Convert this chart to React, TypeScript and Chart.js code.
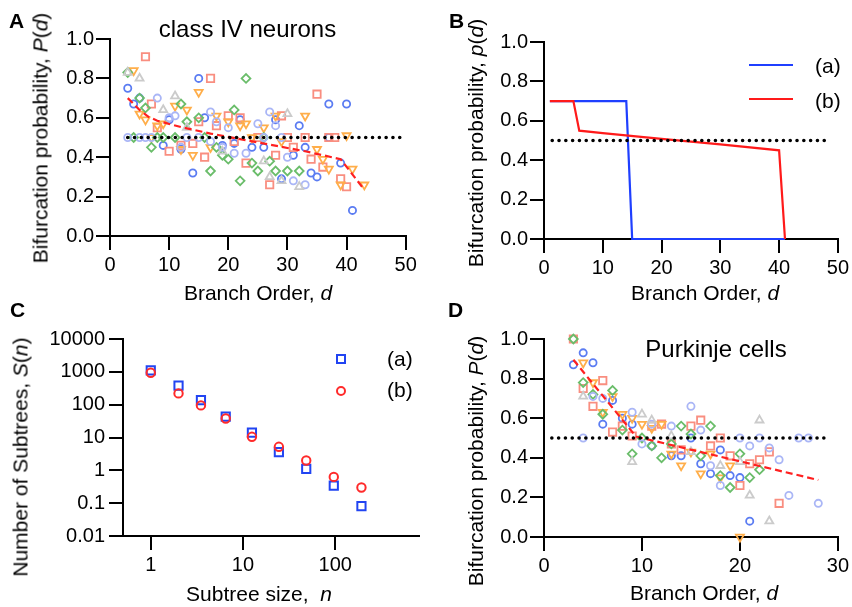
import React, { useEffect, useRef } from "react";
import { Chart, registerables } from "chart.js";
Chart.register(...registerables);

const FONT = '"Liberation Sans", Arial, Helvetica, sans-serif';
type Pt = [number, number];

// ---------------- Panel A: class IV neurons (branch order d, P(d)) ----------------
const A_BLUE: Pt[] = [[3,0.75],[4,0.67],[5,0.70],[9,0.46],[10,0.59],[12,0.44],[14,0.32],[15,0.80],[16,0.60],[19,0.46],[21,0.47],[22,0.59],[24,0.45],[26,0.45],[28,0.59],[29,0.29],[31,0.41],[32,0.56],[33,0.45],[34,0.32],[35,0.30],[37,0.67],[37,0.50],[39,0.37],[40,0.67],[41,0.13]];
const A_LIGHT: Pt[] = [[3,0.50],[5,0.50],[6,0.50],[7,0.50],[8,0.70],[10,0.60],[11,0.61],[12,0.45],[13,0.50],[15,0.50],[17,0.63],[17,0.48],[18,0.58],[19,0.45],[20,0.55],[21,0.42],[23,0.42],[25,0.57],[26,0.50],[27,0.63],[28,0.56],[29,0.50],[30,0.40],[31,0.28],[33,0.26]];
const A_GREEN: Pt[] = [[3,0.83],[4,0.50],[5,0.70],[6,0.65],[7,0.45],[8,0.50],[9,0.50],[11,0.50],[12,0.67],[13,0.58],[15,0.60],[16,0.50],[17,0.33],[18,0.45],[19,0.41],[20,0.39],[21,0.64],[22,0.28],[23,0.80],[24,0.37],[25,0.33],[26,0.50],[27,0.38],[28,0.33],[30,0.33],[32,0.33]];
const A_ORANGE: Pt[] = [[4,0.84],[5,0.62],[6,0.59],[7,0.50],[8,0.56],[9,0.57],[11,0.66],[12,0.44],[13,0.64],[14,0.41],[15,0.73],[17,0.45],[18,0.61],[20,0.58],[22,0.56],[23,0.57],[24,0.50],[26,0.55],[28,0.61],[29,0.48],[33,0.61],[35,0.44],[36,0.39],[37,0.34],[39,0.26],[40,0.51],[41,0.34],[43,0.26]];
const A_SALMON: Pt[] = [[6,0.91],[7,0.67],[8,0.55],[10,0.43],[12,0.46],[14,0.47],[15,0.58],[16,0.40],[17,0.80],[18,0.56],[20,0.61],[21,0.48],[22,0.60],[23,0.37],[25,0.50],[27,0.26],[28,0.41],[29,0.61],[30,0.50],[31,0.45],[33,0.50],[34,0.39],[35,0.72],[36,0.35],[37,0.50],[38,0.50],[39,0.29],[40,0.25]];
const A_GRAY: Pt[] = [[3,0.83],[5,0.80],[9,0.64],[11,0.71],[13,0.55],[19,0.43],[26,0.38],[27,0.30],[29,0.28],[30,0.62],[32,0.25]];
const A_FIT: Pt[] = [[3,0.70],[5,0.64],[6.5,0.605],[8,0.585],[12,0.553],[17,0.52],[25,0.475],[33,0.43],[39,0.39],[43,0.235]];
const A_HALF: Pt[] = [[3,0.5],[49.6,0.5]];

// ---------------- Panel B: model p(d) ----------------
const B_ORDER_A = [1, 14, 15, 41];
const B_PROB_A = [0.7, 0.7, 0, 0];
const B_ORDER_B = [1, 5, 6, 10, 20, 30, 40, 41];
const B_PROB_B = [0.7, 0.7, 0.55, 0.537, 0.508, 0.48, 0.45, 0];
const B_HALF: Pt[] = [[1.4,0.5],[48.1,0.5]];

// ---------------- Panel C: subtree size distribution ----------------
const C_SIZE = [1, 2, 3.5, 6.5, 12.5, 24.5, 48.5, 96.5, 192.5];
const C_COUNT_A = [1100, 380, 138, 43, 14, 3.6, 1.1, 0.34, 0.081];
const C_COUNT_B = [940, 220, 95, 38, 10.5, 5.2, 2.0, 0.63, 0.30];
const C_X_TICKS = [1, 10, 100];
const C_Y_TICKS = [0.01, 0.1, 1, 10, 100, 1000, 10000];

// ---------------- Panel D: Purkinje cells ----------------
const D_BLUE: Pt[] = [[3,0.87],[4,0.93],[5,0.88],[6,0.57],[7,0.69],[8,0.60],[9,0.57],[11,0.46],[13,0.41],[14,0.41],[15,0.50],[16,0.37],[17,0.32],[18,0.44],[19,0.31],[20,0.30],[21,0.08]];
const D_LIGHT: Pt[] = [[4,0.50],[5,0.71],[6,0.70],[9,0.63],[10,0.47],[11,0.57],[13,0.56],[15,0.66],[16,0.54],[17,0.36],[18,0.26],[20,0.50],[21,0.46],[22,0.50],[23,0.45],[24,0.39],[25,0.21],[26,0.50],[27,0.50],[28,0.17]];
const D_GREEN: Pt[] = [[3,1.0],[4,0.78],[5,0.72],[6,0.62],[7,0.74],[8,0.54],[9,0.42],[10,0.50],[11,0.46],[12,0.40],[13,0.47],[14,0.56],[15,0.52],[16,0.41],[17,0.56],[18,0.31],[19,0.25],[20,0.42],[21,0.30],[22,0.34]];
const D_ORANGE: Pt[] = [[4,0.88],[5,0.78],[6,0.63],[7,0.71],[8,0.62],[9,0.60],[10,0.57],[11,0.55],[12,0.57],[13,0.42],[14,0.36],[15,0.43],[16,0.32],[17,0.42],[18,0.30],[19,0.36],[20,0.0]];
const D_SALMON: Pt[] = [[3,1.0],[4,0.75],[5,0.66],[6,0.79],[7,0.53],[8,0.56],[9,0.51],[11,0.56],[12,0.57],[13,0.47],[14,0.44],[15,0.56],[16,0.59],[17,0.46],[18,0.50],[19,0.41],[20,0.26],[21,0.37],[22,0.39],[23,0.43],[24,0.17]];
const D_GRAY: Pt[] = [[4,0.71],[9,0.38],[10,0.62],[11,0.59],[13,0.51],[15,0.43],[18,0.36],[20,0.38],[21,0.21],[22,0.59],[23,0.08]];
const D_FIT: Pt[] = [[3,0.895],[9.4,0.507],[28,0.288]];
const D_HALF: Pt[] = [[0.8,0.5],[28.8,0.5]];

// ---------------- styles ----------------
const COL_BLUE = "#5b7cf2";
const COL_LIGHT = "#aab6f6";
const COL_GREEN = "#6abd6a";
const COL_ORANGE = "#ffae4a";
const COL_SALMON = "#f98e80";
const COL_GRAY = "#cbcbcb";
const COL_FIT = "#ff2020";

const toXY = (a: Pt[]) => a.map(([x, y]) => ({ x, y }));
const zipXY = (xs: number[], ys: number[]) => xs.map((x, i) => ({ x, y: ys[i] }));

function scatterDs(data: any[], style: string, color: string, radius: number, rotation = 0, bw = 1.8) {
  return {
    data,
    showLine: false,
    pointStyle: style,
    pointRadius: radius,
    pointHoverRadius: radius,
    pointBorderWidth: bw,
    borderColor: color,
    pointBorderColor: color,
    backgroundColor: "rgba(0,0,0,0)",
    pointBackgroundColor: "rgba(0,0,0,0)",
    pointRotation: rotation,
    clip: false,
    order: 1,
  };
}

function lineDs(data: any[], color: string, width: number, dash: number[] = [], cap = "butt", order = 0) {
  return {
    data,
    showLine: true,
    pointRadius: 0,
    pointHoverRadius: 0,
    borderColor: color,
    borderWidth: width,
    borderDash: dash,
    borderCapStyle: cap,
    fill: false,
    tension: 0,
    clip: false,
    order,
  };
}

function neuronSets(blue: Pt[], light: Pt[], green: Pt[], orange: Pt[], salmon: Pt[], gray: Pt[]) {
  return [
    scatterDs(toXY(gray), "triangle", COL_GRAY, 4.6),
    scatterDs(toXY(light), "circle", COL_LIGHT, 3.6),
    scatterDs(toXY(green), "rectRot", COL_GREEN, 4.4),
    scatterDs(toXY(orange), "triangle", COL_ORANGE, 4.6, 180),
    scatterDs(toXY(salmon), "rect", COL_SALMON, 5.2),
    scatterDs(toXY(blue), "circle", COL_BLUE, 3.6),
  ];
}

const baseAxis = (tickPad: number, extraTicks: any = {}) => ({
  grid: {
    display: true,
    drawOnChartArea: false,
    drawTicks: true,
    tickLength: 14,
    tickWidth: 2,
    tickColor: "#000",
    color: "#000",
    lineWidth: 2,
  },
  border: { display: true, color: "#000", width: 2 },
  title: { display: false },
  ticks: {
    color: "#000",
    font: { family: FONT, size: 20 },
    padding: tickPad,
    maxRotation: 0,
    minRotation: 0,
    autoSkip: false,
    ...extraTicks,
  },
});

function linX(max: number, h: number) {
  return {
    type: "linear",
    min: 0,
    max,
    ...baseAxis(3, { stepSize: 10 }),
    afterFit: (s: any) => { s.height = h; },
  };
}
function probY(w: number) {
  return {
    type: "linear",
    min: 0,
    max: 1,
    ...baseAxis(2, { stepSize: 0.2, callback: (v: any) => Number(v).toFixed(1) }),
    afterFit: (s: any) => { s.width = w; },
  };
}

function makeConfig(datasets: any[], x: any, y: any, padding: any) {
  return {
    type: "scatter",
    data: { datasets },
    options: {
      responsive: false,
      animation: false,
      events: [],
      layout: { padding },
      plugins: { legend: { display: false }, tooltip: { enabled: false }, title: { display: false } },
      scales: { x, y },
    },
  };
}

const makeA = () =>
  makeConfig(
    [
      lineDs(toXY(A_HALF), "#000", 3.6, [0, 6.8], "round"),
      lineDs(toXY(A_FIT), COL_FIT, 2.2, [7, 4]),
      ...neuronSets(A_BLUE, A_LIGHT, A_GREEN, A_ORANGE, A_SALMON, A_GRAY),
    ],
    linX(50, 60),
    probY(70),
    { left: 40, top: 39, right: 24.3, bottom: 4 }
  );

const makeB = () =>
  makeConfig(
    [
      lineDs(toXY(B_HALF), "#000", 3.6, [0, 6.8], "round", 0),
      lineDs(zipXY(B_ORDER_B, B_PROB_B), "#ff1a1a", 2.2, [], "butt", 0),
      lineDs(zipXY(B_ORDER_A, B_PROB_A), "#1f3fff", 2.2, [], "butt", 1),
    ],
    linX(50, 57),
    probY(74),
    { left: 40, top: 42, right: 13, bottom: 4 }
  );

const makeC = () =>
  makeConfig(
    [
      scatterDs(zipXY(C_SIZE, C_COUNT_B), "circle", "#ff2a2a", 4.2, 0, 2),
      scatterDs(zipXY(C_SIZE, C_COUNT_A), "rect", "#2144f2", 5.8, 0, 2),
    ],
    {
      type: "logarithmic",
      min: 0.5,
      max: 800,
      ...baseAxis(3, { callback: (v: any) => String(v) }),
      afterBuildTicks: (s: any) => { s.ticks = C_X_TICKS.map((v) => ({ value: v })); },
      afterFit: (s: any) => { s.height = 67; },
    },
    {
      type: "logarithmic",
      min: 0.01,
      max: 10000,
      ...baseAxis(4, { callback: (v: any) => String(v) }),
      afterBuildTicks: (s: any) => { s.ticks = C_Y_TICKS.map((v) => ({ value: v })); },
      afterFit: (s: any) => { s.width = 83; },
    },
    { left: 40, top: 39, right: 11.5, bottom: 4 }
  );

const makeD = () =>
  makeConfig(
    [
      lineDs(toXY(D_HALF), "#000", 3.6, [0, 6.8], "round"),
      lineDs(toXY(D_FIT), COL_FIT, 2.2, [7, 4]),
      ...neuronSets(D_BLUE, D_LIGHT, D_GREEN, D_ORANGE, D_SALMON, D_GRAY),
    ],
    linX(30, 66),
    probY(74),
    { left: 40, top: 39, right: 12, bottom: 4 }
  );

function ChartCanvas(props: { left: number; top: number; width: number; height: number; make: () => any }) {
  const ref = useRef<HTMLCanvasElement>(null);
  useEffect(() => {
    const chart = new Chart(ref.current as HTMLCanvasElement, props.make());
    return () => chart.destroy();
  }, []);
  return (
    <canvas
      ref={ref}
      width={props.width}
      height={props.height}
      style={{ position: "absolute", left: props.left, top: props.top, width: props.width, height: props.height }}
    />
  );
}

// horizontal text placed by baseline
function HText(p: { x: number; base: number; size: number; align?: "left" | "center"; bold?: boolean; children: any }) {
  const align = p.align || "center";
  return (
    <div
      style={{
        position: "absolute",
        left: p.x,
        top: p.base - 0.8465 * p.size,
        fontSize: p.size,
        lineHeight: `${p.size}px`,
        fontWeight: p.bold ? "bold" : "normal",
        whiteSpace: "nowrap",
        transform: align === "center" ? "translateX(-50%)" : undefined,
      }}
    >
      {p.children}
    </div>
  );
}

// vertical (rotated -90deg) text, positioned by baseline x and center y
function VText(p: { baseX: number; cy: number; size: number; children: any }) {
  return (
    <div
      style={{
        position: "absolute",
        left: p.baseX - 0.3465 * p.size,
        top: p.cy,
        fontSize: p.size,
        lineHeight: `${p.size}px`,
        whiteSpace: "nowrap",
        transform: "translate(-50%, -50%) rotate(-90deg)",
      }}
    >
      {p.children}
    </div>
  );
}

export default function App() {
  const T = 21;
  return (
    <div
      style={{
        position: "absolute",
        left: 0,
        top: 0,
        width: 852,
        height: 607,
        background: "#fff",
        overflow: "hidden",
        fontFamily: FONT,
        color: "#000",
      }}
    >
      <ChartCanvas left={0} top={0} width={430} height={300} make={makeA} />
      <ChartCanvas left={430} top={0} width={422} height={300} make={makeB} />
      <ChartCanvas left={0} top={300} width={430} height={307} make={makeC} />
      <ChartCanvas left={430} top={300} width={422} height={307} make={makeD} />

      {/* panel letters */}
      <HText x={9} base={28} size={21} align="left" bold>A</HText>
      <HText x={449} base={28} size={21} align="left" bold>B</HText>
      <HText x={10} base={317} size={21} align="left" bold>C</HText>
      <HText x={448} base={317} size={21} align="left" bold>D</HText>

      {/* panel titles */}
      <HText x={247.5} base={37} size={24}>class IV neurons</HText>
      <HText x={716} base={357} size={24}>Purkinje cells</HText>

      {/* x-axis titles */}
      <HText x={258} base={300} size={T}>Branch Order, <i>d</i></HText>
      <HText x={705} base={300} size={T}>Branch Order, <i>d</i></HText>
      <HText x={259} base={601} size={T}>Subtree size,{"\u00a0\u00a0"}<i>n</i></HText>
      <HText x={704} base={600} size={T}>Branch Order, <i>d</i></HText>

      {/* y-axis titles */}
      <VText baseX={47} cy={138} size={T}>Bifurcation probability, <i>P</i>(<i>d</i>)</VText>
      <VText baseX={482} cy={143} size={T}>Bifurcation probability, <i>p</i>(<i>d</i>)</VText>
      <VText baseX={27.5} cy={457} size={T}>Number of Subtrees, <i>S</i>(<i>n</i>)</VText>
      <VText baseX={482} cy={461} size={T}>Bifurcation probability, <i>P</i>(<i>d</i>)</VText>

      {/* legend B */}
      <div style={{ position: "absolute", left: 749, top: 64, width: 44, height: 2, background: "#1f3fff" }} />
      <div style={{ position: "absolute", left: 749, top: 98, width: 44, height: 2, background: "#ff1a1a" }} />
      <HText x={815} base={73} size={21} align="left">(a)</HText>
      <HText x={815} base={108} size={21} align="left">(b)</HText>

      {/* legend C */}
      <div style={{ position: "absolute", left: 335.5, top: 354, width: 10, height: 10, border: "2px solid #2144f2", boxSizing: "border-box" }} />
      <div style={{ position: "absolute", left: 335.5, top: 386, width: 10, height: 10, border: "2px solid #ff2a2a", borderRadius: "50%", boxSizing: "border-box" }} />
      <HText x={387} base={366} size={21} align="left">(a)</HText>
      <HText x={387} base={397} size={21} align="left">(b)</HText>
    </div>
  );
}
